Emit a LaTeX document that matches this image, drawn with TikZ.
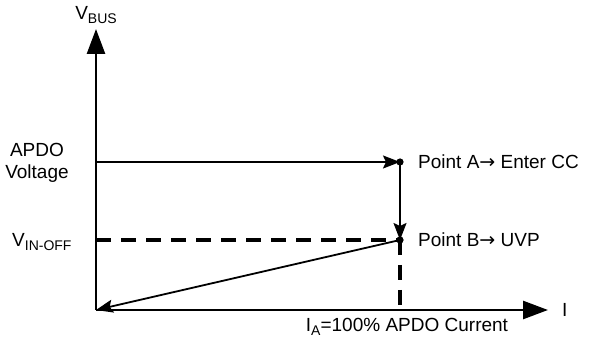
\documentclass[tikz,border=0pt]{standalone}
\usepackage{fontspec}
\setmainfont{Liberation Sans}
\newfontfamily\arrowfont{DejaVu Sans}
\usetikzlibrary{arrows.meta}

\tikzset{
  axis/.style={line width=2.6pt, -{Triangle[length=25pt,width=18pt]}},
  path/.style={line width=1.8pt, -{Stealth[length=17pt,width=13pt,inset=3pt]}},
  guide/.style={line width=3.2pt, dash pattern=on 15pt off 10pt},
  lbl/.style={font=\fontsize{19}{22}\selectfont, inner sep=0pt}
}
\newcommand{\toarr}{{\arrowfont →}}
\newcommand{\lowtxt}[1]{\raisebox{-0.22em}{\fontsize{14}{16}\selectfont #1}}

\begin{document}
\begin{tikzpicture}[x=1pt,y=1pt]
    \useasboundingbox (-96, -29) rectangle (503, 310);

    \coordinate (O) at (0, 0);
    \coordinate (ytop) at (0, 281);
    \coordinate (xend) at (452, 0);
    \coordinate (Vapdo) at (0, 148);
    \coordinate (Voff) at (0, 70);
    \coordinate (IA) at (304, 0);
    \coordinate (A) at (304, 148);
    \coordinate (B) at (304, 70);

    \draw[axis](O)--(ytop);
    \draw[axis](O)--(xend);

    \draw[guide](Voff)--(B);
    \draw[guide](B)--(IA);

    \draw[path](Vapdo)--(A);
    \draw[path](A)--(B);
    \draw[path](B)--(O);

    \fill(A) circle (3.6pt);
    \fill(B) circle (3.6pt);

    \node[lbl] (vbus) at (0, 295){V\lowtxt{BUS}};
    \node[lbl, align=center] (apdo) at (-59, 147){APDO\\Voltage};
    \node[lbl, anchor=west] (vinoff) at (-84, 68){V\lowtxt{IN-OFF}};
    \node[lbl, anchor=west] (ptA) at (322, 148){Point A\toarr\ Enter CC};
    \node[lbl, anchor=west] (ptB) at (322, 70){Point B\toarr\ UVP};
    \node[lbl, anchor=west] (ilbl) at (466, 0){I};
    \node[lbl] (ialbl) at (311, -17){I\lowtxt{A}=100\% APDO Current};

  \end{tikzpicture}
\end{document}
